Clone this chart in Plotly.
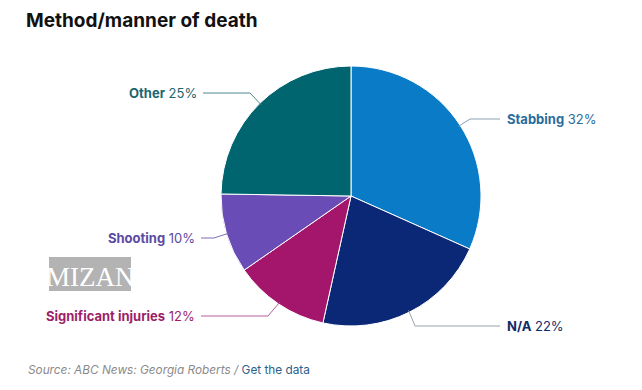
import math
import plotly.graph_objects as go

# ---- data ----
labels = ["Stabbing", "N/A", "Significant injuries", "Shooting", "Other"]
values = [32, 22, 12, 10, 25]
slice_colors = ["#0a7bc6", "#0b2877", "#a3166c", "#6a4cb6", "#01656f"]
text_colors = ["#2b6c9c", "#102b66", "#9c1f68", "#5b4aa2", "#1b6670"]
line_colors = ["#8ba2b4", "#9aa2ae", "#b0609a", "#7e6cb4", "#4f8790"]
# label layout (page pixel positions): (side, elbow_x, elbow_y, end_x)
label_layout = [
    ("right", 470, 119, 500),
    ("right", 415, 326, 500),
    ("left", 268, 316, 201),
    ("left", 214, 238, 201),
    ("left", 250, 93, 203),
]

OFF = 8  # default page body margin
W, H = 626, 374
CX, CY, R = 351, 196, 130


def px(x):
    return (x - OFF) / W


def py(y):
    return 1 - (y - OFF) / H


fig = go.Figure()
fig.add_trace(go.Pie(
    labels=labels,
    values=values,
    sort=False,
    direction="clockwise",
    rotation=0,
    textinfo="none",
    hoverinfo="label+percent",
    marker=dict(colors=slice_colors, line=dict(color="white", width=1)),
    domain=dict(x=[px(CX - R), px(CX + R)], y=[py(CY + R), py(CY - R)]),
    showlegend=False,
))

total = sum(values)
cum = 0
shapes = []
annotations = []
for lab, v, tc, lc, (side, ex, ey, endx) in zip(labels, values, text_colors, line_colors, label_layout):
    mid = (cum + v / 2) / total * 2 * math.pi
    cum += v
    sx = CX + (R - 2) * math.sin(mid)
    sy = CY - (R - 2) * math.cos(mid)
    shapes.append(dict(
        type="path", xref="paper", yref="paper",
        path=f"M {px(sx)} {py(sy)} L {px(ex)} {py(ey)} L {px(endx)} {py(ey)}",
        line=dict(color=lc, width=1),
    ))
    tx = endx - 4 if side == "left" else endx + 5
    annotations.append(dict(
        x=px(tx), y=py(ey), xref="paper", yref="paper",
        xanchor="right" if side == "left" else "left", yanchor="middle",
        text=f"<b>{lab}</b> {v}%", showarrow=False,
        font=dict(family="Inter, Open Sans, sans-serif", size=13, color=tc),
    ))

# title
annotations.append(dict(
    x=px(24), y=py(20), xref="paper", yref="paper", xanchor="left", yanchor="middle",
    text="<b>Method/manner of death</b>", showarrow=False,
    font=dict(family="Inter, Open Sans, sans-serif", size=19, color="#111111"),
))
# source
annotations.append(dict(
    x=px(26), y=py(370), xref="paper", yref="paper", xanchor="left", yanchor="middle",
    text="<i>Source: ABC News: Georgia Roberts /</i> <span style='color:#2a5f8c'>Get the data</span>",
    showarrow=False,
    font=dict(family="Inter, Open Sans, sans-serif", size=11.8, color="#8a8a8a"),
))
# watermark
shapes.append(dict(type="rect", xref="paper", yref="paper",
                   x0=px(49), x1=px(131), y0=py(291), y1=py(257),
                   fillcolor="#b3b3b3", line=dict(width=0), layer="above"))
annotations.append(dict(
    x=px(90), y=py(277), xref="paper", yref="paper", xanchor="center", yanchor="middle",
    text="MIZAN", showarrow=False,
    font=dict(family="Liberation Serif, serif", size=27, color="white"),
))

fig.update_layout(
    width=W, height=H,
    margin=dict(l=0, r=0, t=0, b=0),
    paper_bgcolor="white", plot_bgcolor="white",
    shapes=shapes, annotations=annotations,
)

fig.write_html("out.html")
